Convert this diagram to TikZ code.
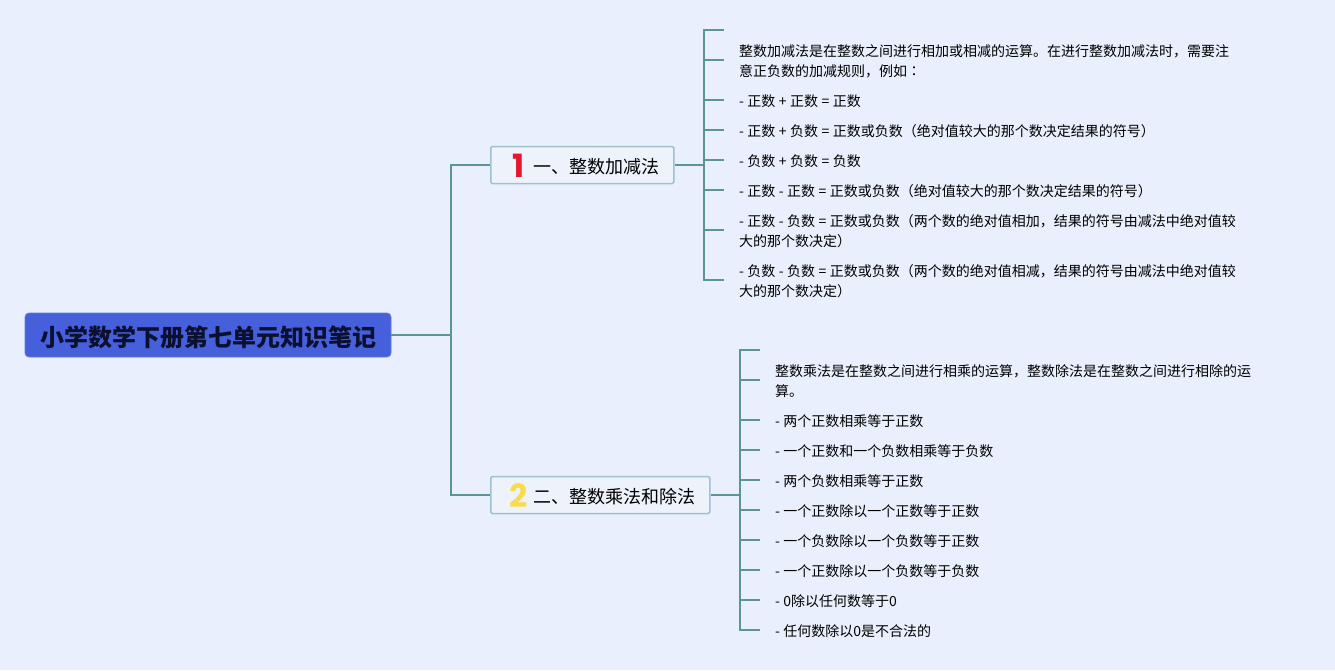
\documentclass[tikz,border=0pt]{standalone}
\usepackage{xcolor}
\usepackage{fontspec}
\setmainfont{Noto Sans CJK SC}
\newfontfamily\colonfont{Noto Sans CJK TC}
\newfontfamily\numfont{Poppins}
\usetikzlibrary{positioning}
\definecolor{pagebg}{HTML}{E9EFFD}
\definecolor{rootblue}{HTML}{4660DC}
\definecolor{rootink}{HTML}{0B1030}
\definecolor{topicfill}{HTML}{EEF3FB}
\definecolor{topicline}{HTML}{9CC3CB}
\definecolor{connline}{HTML}{5B9695}
\definecolor{numred}{HTML}{E3182F}
\definecolor{numyellow}{HTML}{F9DC4E}
\newcommand{\topicnum}[2]{\makebox[27pt][c]{\smash{\raisebox{-5.3pt}{\textcolor{#1}{\numfont\fontsize{32}{32}\bfseries #2}}}}\hspace{2pt}}
\newcommand{\nudge}[2]{\raisebox{-#1}[\height][\depth]{#2}}

\begin{document}
\begin{tikzpicture}[
    x=1pt, y=-1pt,
    node distance=0pt,
    root/.style={draw=rootblue!85!white, fill=rootblue, rounded corners=4pt, line width=0.8pt, minimum width=366pt, minimum height=44pt, text=rootink, font=\fontsize{24}{28}\selectfont\bfseries},
    topic/.style={draw=topicline, fill=topicfill, rounded corners=1.5pt, line width=1.5pt, minimum height=37pt, inner xsep=14pt, inner ysep=0pt, anchor=west, font=\fontsize{18}{22}\selectfont},
    leaf/.style={align=left, text width=500pt, inner xsep=15pt, inner ysep=0pt, outer sep=0pt, minimum height=30pt, font=\fontsize{14}{20}\selectfont, execute at begin node={\spaceskip=3.5pt\relax}},
    leafempty/.style={leaf, minimum height=10pt},
    leaftwo/.style={leaf, minimum height=50pt},
    conn/.style={draw=connline, line width=2pt},
]
\useasboundingbox (0,0) rectangle (1335,670);
\fill[pagebg] (0,0) rectangle (1335,670);

\node[root] (root) at (208,335) {\nudge{2.5pt}{小学数学下册第七单元知识笔记}};
\node[topic] (topicA) at (490,165) {\topicnum{numred}{1}\nudge{1.5pt}{一、整数加减法}};
\node[topic] (topicB) at (490,495) {\topicnum{numyellow}{2}\nudge{1.5pt}{二、整数乘法和除法}};
\coordinate (fork) at (451,335);
\coordinate[right=29.5pt of topicA.east] (trunkA);
\coordinate[right=29.5pt of topicB.east] (trunkB);

% first branch
\node[leafempty, anchor=west] (a0) at (724,31) {};
\node[leaftwo, below=of a0] (a1) {整数加减法是在整数之间进行相加或相减的运算。在进行整数加减法时，需要注\\意正负数的加减规则，例如{\colonfont ：}};
\node[leaf, below=of a1] (a2) {- 正数 + 正数 = 正数};
\node[leaf, below=of a2] (a3) {- 正数 + 负数 = 正数或负数（绝对值较大的那个数决定结果的符号）};
\node[leaf, below=of a3] (a4) {- 负数 + 负数 = 负数};
\node[leaf, below=of a4] (a5) {- 正数 - 正数 = 正数或负数（绝对值较大的那个数决定结果的符号）};
\node[leaftwo, below=of a5] (a6) {- 正数 - 负数 = 正数或负数（两个数的绝对值相加，结果的符号由减法中绝对值较\\大的那个数决定）};
\node[leaftwo, below=of a6] (a7) {- 负数 - 负数 = 正数或负数（两个数的绝对值相减，结果的符号由减法中绝对值较\\大的那个数决定）};

% second branch
\node[leafempty, anchor=west] (b0) at (760,351) {};
\node[leaftwo, below=of b0] (b1) {整数乘法是在整数之间进行相乘的运算，整数除法是在整数之间进行相除的运\\算。};
\node[leaf, below=of b1] (b2) {- 两个正数相乘等于正数};
\node[leaf, below=of b2] (b3) {- 一个正数和一个负数相乘等于负数};
\node[leaf, below=of b3] (b4) {- 两个负数相乘等于正数};
\node[leaf, below=of b4] (b5) {- 一个正数除以一个正数等于正数};
\node[leaf, below=of b5] (b6) {- 一个负数除以一个负数等于正数};
\node[leaf, below=of b6] (b7) {- 一个正数除以一个负数等于负数};
\node[leaf, below=of b7] (b8) {- 0除以任何数等于0};
\node[leaf, below=of b8] (b9) {- 任何数除以0是不合法的};

\draw[conn] (root.east) -- (fork);
\draw[conn] (fork) |- (topicA.west);
\draw[conn] (fork) |- (topicB.west);
\draw[conn] (topicA.east) -- (trunkA);
\draw[conn] (topicB.east) -- (trunkB);
\foreach \n in {a0,a1,a2,a3,a4,a5,a6,a7}
    \draw[conn] (trunkA) |- ([yshift=1pt]\n.west);
\foreach \n in {b0,b1,b2,b3,b4,b5,b6,b7,b8,b9}
    \draw[conn] (trunkB) |- ([yshift=1pt]\n.west);
\end{tikzpicture}
\end{document}
